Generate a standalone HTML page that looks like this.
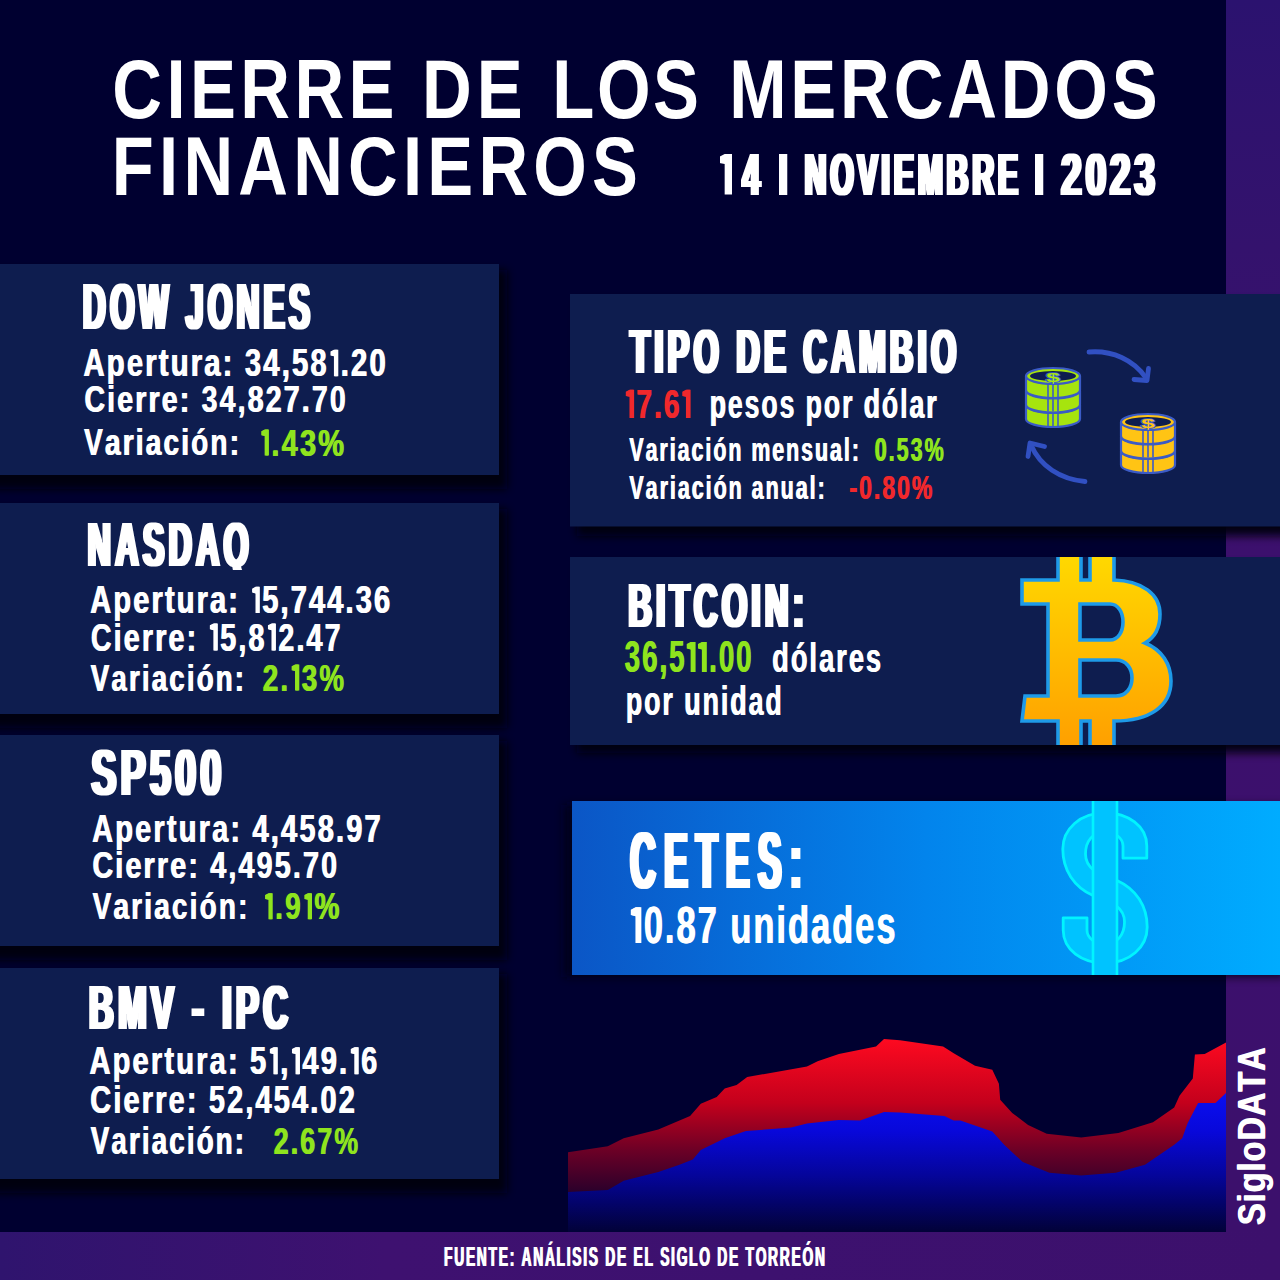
<!DOCTYPE html><html><head><meta charset="utf-8"><title>Cierre de los mercados financieros</title><style>html,body{margin:0;padding:0;background:#000030;width:1280px;height:1280px;overflow:hidden}text{font-family:"Liberation Sans",sans-serif}</style></head><body><svg width="1280" height="1280" viewBox="0 0 1280 1280" style="display:block;font-family:'Liberation Sans',sans-serif;font-kerning:none"><defs><filter id="d2" x="-5%" y="-5%" width="110%" height="110%"><feMorphology operator="dilate" radius="2 0"/></filter></defs>
<defs>
<linearGradient id="gStripe" x1="0" y1="0" x2="0" y2="1">
  <stop offset="0" stop-color="#2b126f"/><stop offset="0.2" stop-color="#34126d"/><stop offset="0.45" stop-color="#3c106d"/><stop offset="1" stop-color="#3c106c"/>
</linearGradient>
<linearGradient id="gFoot" x1="0" y1="0" x2="1" y2="0">
  <stop offset="0" stop-color="#2f146e"/><stop offset="0.3" stop-color="#3e1170"/><stop offset="0.6" stop-color="#3d116f"/><stop offset="1" stop-color="#3c106c"/>
</linearGradient>
<linearGradient id="gCetes" x1="572" y1="0" x2="1280" y2="0" gradientUnits="userSpaceOnUse">
  <stop offset="0" stop-color="#0b56c6"/><stop offset="0.5" stop-color="#0284ec"/><stop offset="1" stop-color="#00acff"/>
</linearGradient>
<linearGradient id="gBtc" x1="0" y1="557" x2="0" y2="745" gradientUnits="userSpaceOnUse">
  <stop offset="0" stop-color="#ffd800"/><stop offset="1" stop-color="#ffa000"/>
</linearGradient>
<linearGradient id="gRed" x1="0" y1="1038" x2="0" y2="1200" gradientUnits="userSpaceOnUse">
  <stop offset="0" stop-color="#ff0a20"/><stop offset="0.4" stop-color="#c4001c"/><stop offset="0.7" stop-color="#6a0026"/><stop offset="1" stop-color="#1e002c"/>
</linearGradient>
<linearGradient id="gBlue" x1="0" y1="1088" x2="0" y2="1232" gradientUnits="userSpaceOnUse">
  <stop offset="0" stop-color="#0a10f4"/><stop offset="0.3" stop-color="#0808da"/><stop offset="0.6" stop-color="#05059c"/><stop offset="0.8" stop-color="#03036a"/><stop offset="1" stop-color="#020238"/>
</linearGradient>
<filter id="sh" x="-10%" y="-10%" width="130%" height="140%">
  <feGaussianBlur stdDeviation="4"/>
</filter>
<clipPath id="cBtc"><rect x="570" y="557" width="710" height="188"/></clipPath>
<clipPath id="cQ"><rect x="0" y="500" width="560" height="70"/></clipPath>
<clipPath id="cCet"><rect x="572" y="801" width="708" height="174"/></clipPath>
</defs>
<rect width="1280" height="1280" fill="#000030"/>
<rect x="1226" y="0" width="54" height="1232" fill="url(#gStripe)"/>
<rect x="0" y="1232" width="1280" height="48" fill="url(#gFoot)"/>
<rect x="-20" y="270" width="527" height="219" fill="#000008" opacity="0.95" filter="url(#sh)"/>
<rect x="-20" y="509" width="527" height="219" fill="#000008" opacity="0.95" filter="url(#sh)"/>
<rect x="-20" y="741" width="527" height="219" fill="#000008" opacity="0.95" filter="url(#sh)"/>
<rect x="-20" y="974" width="527" height="219" fill="#000008" opacity="0.95" filter="url(#sh)"/>
<rect x="577" y="302" width="720" height="234" fill="#000008" opacity="0.95" filter="url(#sh)"/>
<rect x="577" y="565" width="720" height="188" fill="#000008" opacity="0.95" filter="url(#sh)"/>
<rect x="564" y="805" width="720" height="172" fill="#000014" opacity="0.8" filter="url(#sh)"/>
<rect x="0" y="264" width="499" height="211" fill="#0e1d4f"/>
<rect x="0" y="503" width="499" height="211" fill="#0e1d4f"/>
<rect x="0" y="735" width="499" height="211" fill="#0e1d4f"/>
<rect x="0" y="968" width="499" height="211" fill="#0e1d4f"/>
<rect x="570" y="294" width="710" height="232.5" fill="#0e1d4f"/>
<rect x="570" y="557" width="710" height="188" fill="#0e1d4f"/>
<rect x="572" y="801" width="708" height="174" fill="url(#gCetes)"/>
<polygon points="568.0,1152.3 607.8,1146.2 623.7,1138.2 658.3,1129.4 690.1,1116.1 700.8,1103.7 716.7,1097.0 724.7,1088.5 736.6,1085.0 747.2,1077.1 807.0,1066.5 817.6,1061.2 838.9,1054.0 876.0,1046.6 884.0,1039.1 900.0,1040.3 943.1,1046.6 953.7,1053.2 975.0,1065.7 992.3,1069.7 998.9,1083.7 1000.2,1099.7 1012.2,1113.0 1028.1,1124.9 1046.7,1133.7 1081.2,1137.4 1118.4,1132.9 1153.0,1122.3 1174.2,1107.6 1179.5,1095.7 1192.8,1078.4 1194.9,1054.5 1204.7,1054.0 1226.0,1042.6 1226,1232 568,1232" fill="url(#gRed)"/>
<polygon points="568.0,1192.1 607.8,1190.0 623.7,1180.7 658.3,1171.9 679.5,1164.8 692.8,1159.4 700.8,1150.1 724.7,1138.2 745.9,1131.0 791.1,1127.6 807.0,1123.6 838.9,1119.9 860.1,1120.4 884.0,1111.9 900.0,1112.6 944.4,1116.1 953.7,1120.4 960.4,1120.4 992.3,1131.6 1004.2,1144.8 1022.8,1162.1 1049.4,1172.7 1081.2,1175.4 1115.8,1172.7 1145.0,1164.8 1174.2,1144.8 1182.2,1138.2 1187.5,1123.6 1198.1,1102.9 1215.4,1102.9 1226.0,1093.0 1226,1232 568,1232" fill="url(#gBlue)"/>
<g transform="translate(112.37,117.80) scale(0.8200,1)"><text font-size="84.01" font-weight="bold" fill="#fff" letter-spacing="5.323">CIERRE</text></g>
<g transform="translate(421.89,117.80) scale(0.8200,1)"><text font-size="84.01" font-weight="bold" fill="#fff" letter-spacing="6.219">DE</text></g>
<g transform="translate(552.29,117.80) scale(0.8200,1)"><text font-size="84.01" font-weight="bold" fill="#fff" letter-spacing="3.100">LOS</text></g>
<g transform="translate(729.19,117.80) scale(0.8200,1)"><text font-size="84.01" font-weight="bold" fill="#fff" letter-spacing="4.639">MERCADOS</text></g>
<g transform="translate(111.80,195.00) scale(0.8200,1)"><text font-size="83.87" font-weight="bold" fill="#fff" letter-spacing="6.391">FINANCIEROS</text></g>
<g filter="url(#d2)"><g transform="translate(721.67,194.50) scale(0.5000,1)"><text font-size="58.87" font-weight="bold" fill="#fff" letter-spacing="-4.930"> </text><path d="M9.99,0.00 L18.19,0.00 L18.19,-40.50 L9.99,-40.50 L-0.54,-37.66 L-0.54,-31.59 L9.99,-30.38 Z" fill="#fff"/></g></g>
<g filter="url(#d2)"><g transform="translate(742.32,194.50) scale(0.5423,1)"><text font-size="58.87" font-weight="bold" fill="#fff" letter-spacing="0.000">4</text></g></g>
<g filter="url(#d2)"><g transform="translate(779.03,194.50) scale(0.5000,1)"><text font-size="58.87" font-weight="bold" fill="#fff" letter-spacing="-0.079">I</text></g></g>
<g filter="url(#d2)"><g transform="translate(804.81,194.50) scale(0.5062,1)"><text font-size="58.87" font-weight="bold" fill="#fff" letter-spacing="8.072">NOVIEMBRE</text></g></g>
<g filter="url(#d2)"><g transform="translate(1035.03,194.50) scale(0.5000,1)"><text font-size="58.87" font-weight="bold" fill="#fff" letter-spacing="-0.479">I</text></g></g>
<g filter="url(#d2)"><g transform="translate(1061.23,194.50) scale(0.6218,1)"><text font-size="58.87" font-weight="bold" fill="#fff" letter-spacing="6.571">2023</text></g></g>
<g filter="url(#d2)"><g transform="translate(83.11,329.20) scale(0.4816,1)"><text font-size="64.83" font-weight="bold" fill="#fff" letter-spacing="9.344">DOW JONES</text></g></g>
<g transform="translate(83.12,376.20) scale(0.7569,1)"><text font-size="38.52" font-weight="bold" fill="#fff" letter-spacing="2.907">Apertura: 34,58 .20</text><path d="M331.36,0.00 L335.94,0.00 L335.94,-26.50 L331.36,-26.50 L326.81,-24.64 L326.81,-20.67 L331.36,-19.88 Z" fill="#fff"/></g><g transform="translate(0.90,0)"><g transform="translate(83.12,376.20) scale(0.7569,1)"><text font-size="38.52" font-weight="bold" fill="#fff" letter-spacing="2.907">Apertura: 34,58 .20</text><path d="M331.36,0.00 L335.94,0.00 L335.94,-26.50 L331.36,-26.50 L326.81,-24.64 L326.81,-20.67 L331.36,-19.88 Z" fill="#fff"/></g></g>
<g transform="translate(83.98,412.30) scale(0.7614,1)"><text font-size="37.36" font-weight="bold" fill="#fff" letter-spacing="2.889">Cierre: 34,827.70</text></g><g transform="translate(0.90,0)"><g transform="translate(83.98,412.30) scale(0.7614,1)"><text font-size="37.36" font-weight="bold" fill="#fff" letter-spacing="2.889">Cierre: 34,827.70</text></g></g>
<g transform="translate(83.66,454.90) scale(0.7750,1)"><text font-size="36.05" font-weight="bold" fill="#fff" letter-spacing="2.839">Variación:</text></g><g transform="translate(0.90,0)"><g transform="translate(83.66,454.90) scale(0.7750,1)"><text font-size="36.05" font-weight="bold" fill="#fff" letter-spacing="2.839">Variación:</text></g></g>
<g transform="translate(259.06,455.50) scale(0.7672,1)"><text font-size="37.79" font-weight="bold" fill="#8fe41e" letter-spacing="2.868"> .43%</text><path d="M7.26,0.00 L11.68,0.00 L11.68,-26.00 L7.26,-26.00 L2.85,-24.18 L2.85,-20.28 L7.26,-19.50 Z" fill="#8fe41e"/></g><g transform="translate(0.90,0)"><g transform="translate(259.06,455.50) scale(0.7672,1)"><text font-size="37.79" font-weight="bold" fill="#8fe41e" letter-spacing="2.868"> .43%</text><path d="M7.26,0.00 L11.68,0.00 L11.68,-26.00 L7.26,-26.00 L2.85,-24.18 L2.85,-20.28 L7.26,-19.50 Z" fill="#8fe41e"/></g></g>
<g clip-path="url(#cQ)"><g filter="url(#d2)"><g transform="translate(87.87,566.20) scale(0.5066,1)"><text font-size="62.94" font-weight="bold" fill="#fff" letter-spacing="8.883">NASDAQ</text></g></g></g>
<g transform="translate(89.83,613.10) scale(0.7564,1)"><text font-size="38.23" font-weight="bold" fill="#fff" letter-spacing="2.909">Apertura:  5,744.36</text><path d="M219.02,0.00 L223.56,0.00 L223.56,-26.30 L219.02,-26.30 L214.50,-24.46 L214.50,-20.51 L219.02,-19.72 Z" fill="#fff"/></g><g transform="translate(0.90,0)"><g transform="translate(89.83,613.10) scale(0.7564,1)"><text font-size="38.23" font-weight="bold" fill="#fff" letter-spacing="2.909">Apertura:  5,744.36</text><path d="M219.02,0.00 L223.56,0.00 L223.56,-26.30 L219.02,-26.30 L214.50,-24.46 L214.50,-20.51 L219.02,-19.72 Z" fill="#fff"/></g></g>
<g transform="translate(90.38,650.50) scale(0.7260,1)"><text font-size="39.39" font-weight="bold" fill="#fff" letter-spacing="3.030">Cierre:  5,8 2.47</text><path d="M169.42,0.00 L174.34,0.00 L174.34,-27.10 L169.42,-27.10 L164.57,-25.20 L164.57,-21.14 L169.42,-20.32 Z M249.44,0.00 L254.35,0.00 L254.35,-27.10 L249.44,-27.10 L244.58,-25.20 L244.58,-21.14 L249.44,-20.32 Z" fill="#fff"/></g><g transform="translate(0.90,0)"><g transform="translate(90.38,650.50) scale(0.7260,1)"><text font-size="39.39" font-weight="bold" fill="#fff" letter-spacing="3.030">Cierre:  5,8 2.47</text><path d="M169.42,0.00 L174.34,0.00 L174.34,-27.10 L169.42,-27.10 L164.57,-25.20 L164.57,-21.14 L169.42,-20.32 Z M249.44,0.00 L254.35,0.00 L254.35,-27.10 L249.44,-27.10 L244.58,-25.20 L244.58,-21.14 L249.44,-20.32 Z" fill="#fff"/></g></g>
<g transform="translate(90.36,690.50) scale(0.7360,1)"><text font-size="37.50" font-weight="bold" fill="#fff" letter-spacing="2.989">Variación:</text></g><g transform="translate(0.90,0)"><g transform="translate(90.36,690.50) scale(0.7360,1)"><text font-size="37.50" font-weight="bold" fill="#fff" letter-spacing="2.989">Variación:</text></g></g>
<g transform="translate(262.29,690.50) scale(0.7342,1)"><text font-size="37.79" font-weight="bold" fill="#8fe41e" letter-spacing="2.997">2. 3%</text><path d="M44.57,0.00 L49.19,0.00 L49.19,-26.00 L44.57,-26.00 L39.97,-24.18 L39.97,-20.28 L44.57,-19.50 Z" fill="#8fe41e"/></g><g transform="translate(0.90,0)"><g transform="translate(262.29,690.50) scale(0.7342,1)"><text font-size="37.79" font-weight="bold" fill="#8fe41e" letter-spacing="2.997">2. 3%</text><path d="M44.57,0.00 L49.19,0.00 L49.19,-26.00 L44.57,-26.00 L39.97,-24.18 L39.97,-20.28 L44.57,-19.50 Z" fill="#8fe41e"/></g></g>
<g filter="url(#d2)"><g transform="translate(91.53,794.70) scale(0.5759,1)"><text font-size="64.54" font-weight="bold" fill="#fff" letter-spacing="7.813">SP500</text></g></g>
<g transform="translate(91.63,841.80) scale(0.7521,1)"><text font-size="38.52" font-weight="bold" fill="#fff" letter-spacing="2.925">Apertura: 4,458.97</text></g><g transform="translate(0.90,0)"><g transform="translate(91.63,841.80) scale(0.7521,1)"><text font-size="38.52" font-weight="bold" fill="#fff" letter-spacing="2.925">Apertura: 4,458.97</text></g></g>
<g transform="translate(91.98,878.40) scale(0.7666,1)"><text font-size="37.36" font-weight="bold" fill="#fff" letter-spacing="2.870">Cierre: 4,495.70</text></g><g transform="translate(0.90,0)"><g transform="translate(91.98,878.40) scale(0.7666,1)"><text font-size="37.36" font-weight="bold" fill="#fff" letter-spacing="2.870">Cierre: 4,495.70</text></g></g>
<g transform="translate(92.16,919.20) scale(0.7450,1)"><text font-size="37.50" font-weight="bold" fill="#fff" letter-spacing="2.953">Variación:</text></g><g transform="translate(0.90,0)"><g transform="translate(92.16,919.20) scale(0.7450,1)"><text font-size="37.50" font-weight="bold" fill="#fff" letter-spacing="2.953">Variación:</text></g></g>
<g transform="translate(263.17,919.20) scale(0.7409,1)"><text font-size="37.79" font-weight="bold" fill="#8fe41e" letter-spacing="2.969"> .9 %</text><path d="M7.10,0.00 L11.68,0.00 L11.68,-26.00 L7.10,-26.00 L2.54,-24.18 L2.54,-20.28 L7.10,-19.50 Z M60.13,0.00 L64.71,0.00 L64.71,-26.00 L60.13,-26.00 L55.57,-24.18 L55.57,-20.28 L60.13,-19.50 Z" fill="#8fe41e"/></g><g transform="translate(0.90,0)"><g transform="translate(263.17,919.20) scale(0.7409,1)"><text font-size="37.79" font-weight="bold" fill="#8fe41e" letter-spacing="2.969"> .9 %</text><path d="M7.10,0.00 L11.68,0.00 L11.68,-26.00 L7.10,-26.00 L2.54,-24.18 L2.54,-20.28 L7.10,-19.50 Z M60.13,0.00 L64.71,0.00 L64.71,-26.00 L60.13,-26.00 L55.57,-24.18 L55.57,-20.28 L60.13,-19.50 Z" fill="#8fe41e"/></g></g>
<g filter="url(#d2)"><g transform="translate(89.02,1029.10) scale(0.5359,1)"><text font-size="63.66" font-weight="bold" fill="#fff" letter-spacing="8.397">BMV - IPC</text></g></g>
<g transform="translate(89.03,1074.30) scale(0.7364,1)"><text font-size="39.39" font-weight="bold" fill="#fff" letter-spacing="2.988">Apertura: 5 , 49. 6</text><path d="M250.31,0.00 L255.16,0.00 L255.16,-27.10 L250.31,-27.10 L245.53,-25.20 L245.53,-21.14 L250.31,-20.32 Z M280.37,0.00 L285.22,0.00 L285.22,-27.10 L280.37,-27.10 L275.58,-25.20 L275.58,-21.14 L280.37,-20.32 Z M360.21,0.00 L365.06,0.00 L365.06,-27.10 L360.21,-27.10 L355.43,-25.20 L355.43,-21.14 L360.21,-20.32 Z" fill="#fff"/></g><g transform="translate(0.90,0)"><g transform="translate(89.03,1074.30) scale(0.7364,1)"><text font-size="39.39" font-weight="bold" fill="#fff" letter-spacing="2.988">Apertura: 5 , 49. 6</text><path d="M250.31,0.00 L255.16,0.00 L255.16,-27.10 L250.31,-27.10 L245.53,-25.20 L245.53,-21.14 L250.31,-20.32 Z M280.37,0.00 L285.22,0.00 L285.22,-27.10 L280.37,-27.10 L275.58,-25.20 L275.58,-21.14 L280.37,-20.32 Z M360.21,0.00 L365.06,0.00 L365.06,-27.10 L360.21,-27.10 L355.43,-25.20 L355.43,-21.14 L360.21,-20.32 Z" fill="#fff"/></g></g>
<g transform="translate(89.87,1112.90) scale(0.7486,1)"><text font-size="38.52" font-weight="bold" fill="#fff" letter-spacing="2.939">Cierre: 52,454.02</text></g><g transform="translate(0.90,0)"><g transform="translate(89.87,1112.90) scale(0.7486,1)"><text font-size="38.52" font-weight="bold" fill="#fff" letter-spacing="2.939">Cierre: 52,454.02</text></g></g>
<g transform="translate(90.36,1153.70) scale(0.7275,1)"><text font-size="37.94" font-weight="bold" fill="#fff" letter-spacing="3.024">Variación:</text></g><g transform="translate(0.90,0)"><g transform="translate(90.36,1153.70) scale(0.7275,1)"><text font-size="37.94" font-weight="bold" fill="#fff" letter-spacing="3.024">Variación:</text></g></g>
<g transform="translate(273.23,1153.70) scale(0.7058,1)"><text font-size="37.79" font-weight="bold" fill="#8fe41e" letter-spacing="3.117">2.67%</text></g><g transform="translate(0.90,0)"><g transform="translate(273.23,1153.70) scale(0.7058,1)"><text font-size="37.79" font-weight="bold" fill="#8fe41e" letter-spacing="3.117">2.67%</text></g></g>
<g filter="url(#d2)"><g transform="translate(630.34,372.50) scale(0.5144,1)"><text font-size="62.36" font-weight="bold" fill="#fff" letter-spacing="8.748">TIPO DE CAMBIO</text></g></g>
<g transform="translate(624.63,417.90) scale(0.6862,1)"><text font-size="40.99" font-weight="bold" fill="#f0282c" letter-spacing="2.915"> 7.6 </text><path d="M7.05,0.00 L12.67,0.00 L12.67,-28.20 L7.05,-28.20 L1.71,-26.23 L1.71,-22.00 L7.05,-21.15 Z M89.36,0.00 L94.98,0.00 L94.98,-28.20 L89.36,-28.20 L84.02,-26.23 L84.02,-22.00 L89.36,-21.15 Z" fill="#f0282c"/></g><g transform="translate(0.80,0)"><g transform="translate(624.63,417.90) scale(0.6862,1)"><text font-size="40.99" font-weight="bold" fill="#f0282c" letter-spacing="2.915"> 7.6 </text><path d="M7.05,0.00 L12.67,0.00 L12.67,-28.20 L7.05,-28.20 L1.71,-26.23 L1.71,-22.00 L7.05,-21.15 Z M89.36,0.00 L94.98,0.00 L94.98,-28.20 L89.36,-28.20 L84.02,-26.23 L84.02,-22.00 L89.36,-21.15 Z" fill="#f0282c"/></g></g>
<g transform="translate(709.35,417.90) scale(0.6563,1)"><text font-size="40.41" font-weight="bold" fill="#fff" letter-spacing="3.047">pesos por dólar</text></g><g transform="translate(0.80,0)"><g transform="translate(709.35,417.90) scale(0.6563,1)"><text font-size="40.41" font-weight="bold" fill="#fff" letter-spacing="3.047">pesos por dólar</text></g></g>
<g transform="translate(628.95,460.80) scale(0.6468,1)"><text font-size="32.99" font-weight="bold" fill="#fff" letter-spacing="3.092">Variación mensual:</text></g><g transform="translate(0.80,0)"><g transform="translate(628.95,460.80) scale(0.6468,1)"><text font-size="32.99" font-weight="bold" fill="#fff" letter-spacing="3.092">Variación mensual:</text></g></g>
<g transform="translate(874.35,460.80) scale(0.6511,1)"><text font-size="32.99" font-weight="bold" fill="#8fe41e" letter-spacing="3.072">0.53%</text></g><g transform="translate(0.80,0)"><g transform="translate(874.35,460.80) scale(0.6511,1)"><text font-size="32.99" font-weight="bold" fill="#8fe41e" letter-spacing="3.072">0.53%</text></g></g>
<g transform="translate(628.95,499.10) scale(0.6494,1)"><text font-size="32.99" font-weight="bold" fill="#fff" letter-spacing="3.080">Variación anual:</text></g><g transform="translate(0.80,0)"><g transform="translate(628.95,499.10) scale(0.6494,1)"><text font-size="32.99" font-weight="bold" fill="#fff" letter-spacing="3.080">Variación anual:</text></g></g>
<g transform="translate(849.10,499.10) scale(0.6964,1)"><text font-size="32.99" font-weight="bold" fill="#f0282c" letter-spacing="2.872">-0.80%</text></g><g transform="translate(0.80,0)"><g transform="translate(849.10,499.10) scale(0.6964,1)"><text font-size="32.99" font-weight="bold" fill="#f0282c" letter-spacing="2.872">-0.80%</text></g></g>
<g filter="url(#d2)"><g transform="translate(628.44,626.60) scale(0.5117,1)"><text font-size="63.23" font-weight="bold" fill="#fff" letter-spacing="8.794">BITCOIN:</text></g></g>
<g transform="translate(624.26,672.00) scale(0.6357,1)"><text font-size="43.61" font-weight="bold" fill="#8fe41e" letter-spacing="3.146">36,5  .00</text><path d="M104.40,0.00 L110.93,0.00 L110.93,-30.00 L104.40,-30.00 L98.27,-27.90 L98.27,-23.40 L104.40,-22.50 Z M122.09,0.00 L128.62,0.00 L128.62,-30.00 L122.09,-30.00 L115.96,-27.90 L115.96,-23.40 L122.09,-22.50 Z" fill="#8fe41e"/></g><g transform="translate(0.80,0)"><g transform="translate(624.26,672.00) scale(0.6357,1)"><text font-size="43.61" font-weight="bold" fill="#8fe41e" letter-spacing="3.146">36,5  .00</text><path d="M104.40,0.00 L110.93,0.00 L110.93,-30.00 L104.40,-30.00 L98.27,-27.90 L98.27,-23.40 L104.40,-22.50 Z M122.09,0.00 L128.62,0.00 L128.62,-30.00 L122.09,-30.00 L115.96,-27.90 L115.96,-23.40 L122.09,-22.50 Z" fill="#8fe41e"/></g></g>
<g transform="translate(771.78,672.00) scale(0.6696,1)"><text font-size="40.70" font-weight="bold" fill="#fff" letter-spacing="2.987">dólares</text></g><g transform="translate(0.80,0)"><g transform="translate(771.78,672.00) scale(0.6696,1)"><text font-size="40.70" font-weight="bold" fill="#fff" letter-spacing="2.987">dólares</text></g></g>
<g transform="translate(625.44,715.00) scale(0.6560,1)"><text font-size="40.70" font-weight="bold" fill="#fff" letter-spacing="3.049">por unidad</text></g><g transform="translate(0.80,0)"><g transform="translate(625.44,715.00) scale(0.6560,1)"><text font-size="40.70" font-weight="bold" fill="#fff" letter-spacing="3.049">por unidad</text></g></g>
<g filter="url(#d2)"><g transform="translate(630.26,888.00) scale(0.4406,1)"><text font-size="79.80" font-weight="bold" fill="#fff" letter-spacing="19.292">CETES:</text></g></g>
<g transform="translate(629.92,943.00) scale(0.6617,1)"><text font-size="52.04" font-weight="bold" fill="#fff" letter-spacing="3.023"> 0.87 unidades</text><path d="M8.36,0.00 L16.08,0.00 L16.08,-35.80 L8.36,-35.80 L1.33,-33.29 L1.33,-27.92 L8.36,-26.85 Z" fill="#fff"/></g><g transform="translate(0.80,0)"><g transform="translate(629.92,943.00) scale(0.6617,1)"><text font-size="52.04" font-weight="bold" fill="#fff" letter-spacing="3.023"> 0.87 unidades</text><path d="M8.36,0.00 L16.08,0.00 L16.08,-35.80 L8.36,-35.80 L1.33,-33.29 L1.33,-27.92 L8.36,-26.85 Z" fill="#fff"/></g></g>
<g transform="translate(443.58,1266.00) scale(0.5000,1)"><text font-size="27.62" font-weight="bold" fill="#fff" letter-spacing="3.450">FUENTE: ANÁLISIS DE EL SIGLO DE TORREÓN</text></g><g transform="translate(1.00,0)"><g transform="translate(443.58,1266.00) scale(0.5000,1)"><text font-size="27.62" font-weight="bold" fill="#fff" letter-spacing="3.450">FUENTE: ANÁLISIS DE EL SIGLO DE TORREÓN</text></g></g>
<g transform="translate(1265.1,1225) rotate(-90)"><g transform="translate(-0.49,0.00) scale(0.8291,1)"><text font-size="39.24" font-weight="bold" fill="#fff" letter-spacing="1.206">SigloDATA</text></g><g transform="translate(0.90,0)"><g transform="translate(-0.49,0.00) scale(0.8291,1)"><text font-size="39.24" font-weight="bold" fill="#fff" letter-spacing="1.206">SigloDATA</text></g></g></g>
<g stroke="#3b5bc6" stroke-width="2.2" stroke-linejoin="round"><path d="M1026,405.0 L1026,419.0 A27,8 0 0 0 1080,419.0 L1080,405.0 Z" fill="#a6e40e"/><ellipse cx="1053" cy="405.0" rx="27" ry="8" fill="#a6e40e"/><line x1="1048" y1="412.0" x2="1048" y2="426.0" stroke-width="1.6"/><line x1="1053" y1="412.0" x2="1053" y2="426.0" stroke-width="1.6"/><line x1="1058" y1="412.0" x2="1058" y2="426.0" stroke-width="1.6"/><path d="M1026,390.5 L1026,404.5 A27,8 0 0 0 1080,404.5 L1080,390.5 Z" fill="#a6e40e"/><ellipse cx="1053" cy="390.5" rx="27" ry="8" fill="#a6e40e"/><line x1="1048" y1="397.5" x2="1048" y2="411.5" stroke-width="1.6"/><line x1="1053" y1="397.5" x2="1053" y2="411.5" stroke-width="1.6"/><line x1="1058" y1="397.5" x2="1058" y2="411.5" stroke-width="1.6"/><path d="M1026,376.0 L1026,390.0 A27,8 0 0 0 1080,390.0 L1080,376.0 Z" fill="#a6e40e"/><ellipse cx="1053" cy="376.0" rx="27" ry="8" fill="#a6e40e"/><line x1="1048" y1="383.0" x2="1048" y2="397.0" stroke-width="1.6"/><line x1="1053" y1="383.0" x2="1053" y2="397.0" stroke-width="1.6"/><line x1="1058" y1="383.0" x2="1058" y2="397.0" stroke-width="1.6"/><ellipse cx="1053" cy="376" rx="23" ry="5" fill="#0e1d4f" stroke="none"/><text x="1053" y="383.5" font-size="18" font-weight="bold" text-anchor="middle" fill="#a6e40e" stroke="#3b5bc6" stroke-width="2.2" paint-order="stroke" transform="translate(1053,377) scale(1.35,0.75) translate(-1053,-377)">$</text></g>
<g stroke="#3b5bc6" stroke-width="2.2" stroke-linejoin="round"><path d="M1121,451.0 L1121,465.0 A27,8 0 0 0 1175,465.0 L1175,451.0 Z" fill="#ffc414"/><ellipse cx="1148" cy="451.0" rx="27" ry="8" fill="#ffc414"/><line x1="1143" y1="458.0" x2="1143" y2="472.0" stroke-width="1.6"/><line x1="1148" y1="458.0" x2="1148" y2="472.0" stroke-width="1.6"/><line x1="1153" y1="458.0" x2="1153" y2="472.0" stroke-width="1.6"/><path d="M1121,436.5 L1121,450.5 A27,8 0 0 0 1175,450.5 L1175,436.5 Z" fill="#ffc414"/><ellipse cx="1148" cy="436.5" rx="27" ry="8" fill="#ffc414"/><line x1="1143" y1="443.5" x2="1143" y2="457.5" stroke-width="1.6"/><line x1="1148" y1="443.5" x2="1148" y2="457.5" stroke-width="1.6"/><line x1="1153" y1="443.5" x2="1153" y2="457.5" stroke-width="1.6"/><path d="M1121,422.0 L1121,436.0 A27,8 0 0 0 1175,436.0 L1175,422.0 Z" fill="#ffc414"/><ellipse cx="1148" cy="422.0" rx="27" ry="8" fill="#ffc414"/><line x1="1143" y1="429.0" x2="1143" y2="443.0" stroke-width="1.6"/><line x1="1148" y1="429.0" x2="1148" y2="443.0" stroke-width="1.6"/><line x1="1153" y1="429.0" x2="1153" y2="443.0" stroke-width="1.6"/><ellipse cx="1148" cy="422" rx="23" ry="5" fill="#0e1d4f" stroke="none"/><text x="1148" y="429.5" font-size="18" font-weight="bold" text-anchor="middle" fill="#ffc414" stroke="#3b5bc6" stroke-width="2.2" paint-order="stroke" transform="translate(1148,423) scale(1.35,0.75) translate(-1148,-423)">$</text></g>
<g fill="none" stroke="#3150c2" stroke-width="4.8" stroke-linecap="round" stroke-linejoin="round"><path d="M1089,352 C1112,350 1134,360 1146,378"/><path d="M1134,379.5 L1147,380.5 L1148.5,368.5"/><path d="M1085,481.5 C1060,479 1040,466 1031,445"/><path d="M1044.5,446.5 L1030,443 L1028,456.5"/></g>
<g clip-path="url(#cBtc)"><path d="M1058,540 L1081,540 L1081,580 L1090,580 L1090,540 L1114,540 L1114,580 C1142,581 1160,594 1160,614 C1160,628 1154,638 1145,643 C1162,650 1171,664 1171,681 C1171,706 1150,721 1114,721 L1114,760 L1090,760 L1090,721 L1081,721 L1081,760 L1058,760 L1058,721 L1022,721 L1025,696 L1048,696 L1048,604 L1022,604 L1022,580 L1058,580 Z M1080,604 L1110,604 C1118,604 1123,612 1123,622 C1123,632 1118,640 1110,640 L1080,640 Z M1080,660 L1116,660 C1126,660 1132,668 1132,678 C1132,688 1126,696 1116,696 L1080,696 Z" fill="url(#gBtc)" fill-rule="evenodd" stroke="#1e9ae8" stroke-width="3.6" stroke-linejoin="miter"/></g>
<g clip-path="url(#cCet)"><path d="M1123,858.2 L1146.8,858.2 L1146.8,846 C1146.8,826 1128,812.9 1105,812.9 C1080,812.9 1062.8,829 1062.8,849 C1062.8,870 1074,887 1093,895.5 C1113,902 1124.5,908 1124.5,922 C1124.5,935 1117,944 1105,944 C1095,944 1087,938 1087,930 L1087,917.8 L1063.2,917.8 L1063.2,930 C1063.2,950 1082,963.1 1105,963.1 C1130,963.1 1147.2,947 1147.2,927 C1147.2,906 1136,889 1117,880.5 C1097,874 1085.5,868 1085.5,854 C1085.5,841 1093,832 1105,832 C1115,832 1123,838 1123,846 Z" fill="#00c3ff" stroke="#00f4ff" stroke-width="2.8" stroke-linejoin="round"/><rect x="1093" y="795" width="24" height="190" fill="#00c3ff"/><line x1="1093" y1="795" x2="1093" y2="985" stroke="#00f4ff" stroke-width="2.6"/><line x1="1117" y1="795" x2="1117" y2="985" stroke="#00f4ff" stroke-width="2.6"/></g></svg></body></html>
